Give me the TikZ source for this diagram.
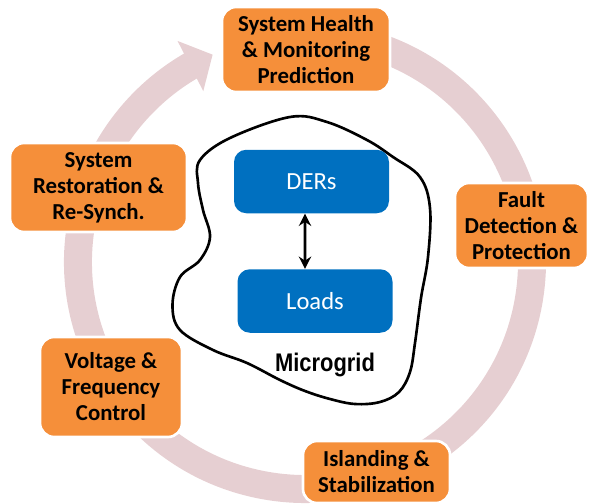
\documentclass[tikz,border=0pt]{standalone}
\usepackage{fontspec}
\setmainfont{Carlito}
\newfontfamily\arialfont{Liberation Sans}
\usetikzlibrary{arrows.meta,bending,calc}
\definecolor{ringpink}{RGB}{230,207,210}
\definecolor{boxorange}{RGB}{245,143,58}
\definecolor{derblue}{RGB}{0,112,192}
\tikzset{
  task/.style={rectangle,rounded corners=8pt,fill=boxorange,draw=white,line width=1.5pt,
    align=center,inner sep=2pt,font=\fontsize{13}{14.8}\selectfont\bfseries},
  unit/.style={rectangle,rounded corners=7pt,fill=derblue,text=white,
    minimum width=3.1cm,minimum height=1.27cm,font=\fontsize{14}{16}\selectfont}
}
\begin{document}
\begin{tikzpicture}
\useasboundingbox(0,0)rectangle(11.8,10.06);
%cycle arrow
\draw[ringpink,line width=0.56cm,-{Triangle[length=0.5cm,width=1.1cm]}]
(6.888,9.291) arc (80:-246:4.54);
%microgrid outline
\draw[line width=1.5pt]plot[smooth cycle,tension=0.6]coordinates{
(4.0,6.86)(4.6,7.3)(5.8,7.72)(6.54,7.62)(7.34,7.26)(7.86,6.92)(8.4,6.52)
(8.6,5.9)(8.56,4.92)(8.42,4.1)(8.3,3.2)(8.2,2.62)(7.98,2.22)(7.6,2.02)
(7.1,1.98)(6.6,2.08)(6.1,2.24)(5.6,2.46)(4.94,2.8)(4.26,3.06)(3.6,3.46)(3.45,3.96)
(3.6,4.52)(4.0,4.86)(4.2,5.32)(4.06,5.86)(3.96,6.4)};
%units
\node[unit](ders)at(6.23,6.43){DERs};
\node[unit](loads)at(6.3,4.04){Loads};
\draw[line width=1.5pt,{Stealth[length=7pt,width=7pt]}-{Stealth[length=7pt,width=7pt]}]
([xshift=-1.3mm]ders.south)--([xshift=-2mm]loads.north);
\node[font=\arialfont\fontsize{14.5}{16}\selectfont\bfseries,xscale=0.86](mg)at(6.5,2.76){Microgrid};
%tasks
\node[task,minimum width=3.36cm,minimum height=1.7cm](health)at(6.12,9.07)
{System Health\\\& Monitoring\\Prediction};
\node[task,minimum width=2.66cm,minimum height=1.7cm](fault)at(10.43,5.55)
{Fault\\Detection \&\\Protection};
\node[task,minimum width=2.94cm,minimum height=1.24cm](island)at(7.53,0.62)
{Islanding \&\\Stabilization};
\node[task,minimum width=2.84cm,minimum height=2.0cm](volt)at(2.22,2.32)
{Voltage \&\\Frequency\\Control};
\node[task,minimum width=3.54cm,minimum height=1.78cm](restore)at(1.97,6.31)
{System\\Restoration \&\\Re-Synch.};
\end{tikzpicture}
\end{document}
